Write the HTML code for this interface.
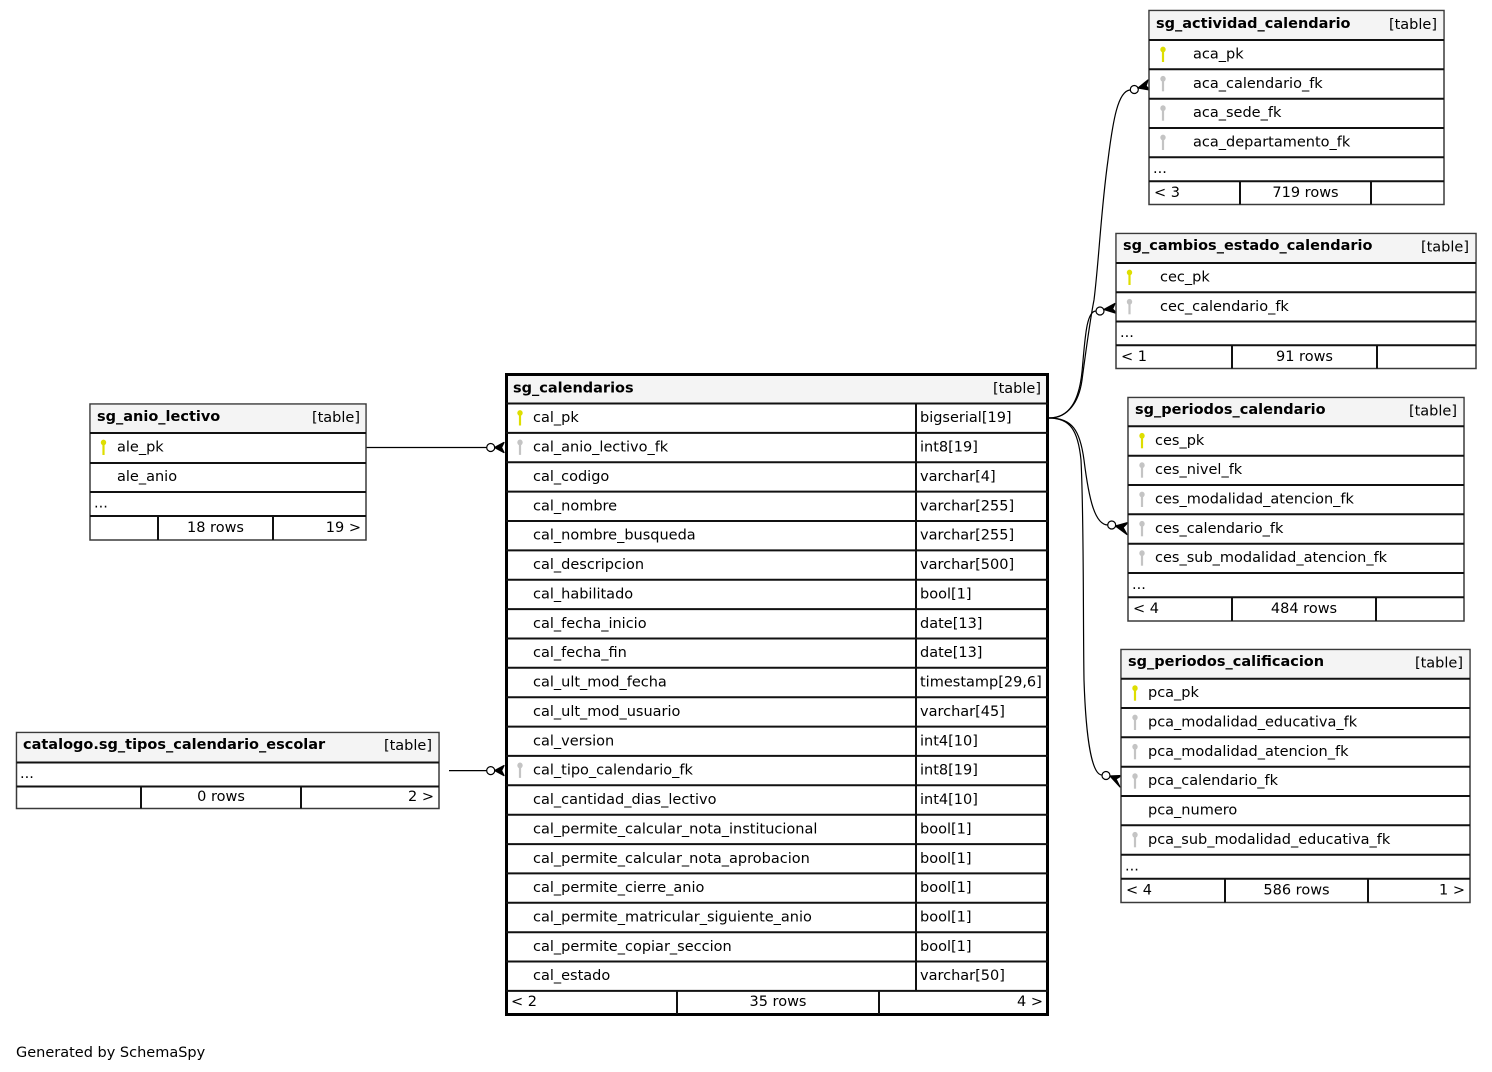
<!DOCTYPE html>
<html><head><meta charset="utf-8"><style>
html,body{margin:0;padding:0;background:#fff;}
svg{display:block;}
text{font-family:"DejaVu Sans","Liberation Sans",sans-serif;font-size:14.5px;fill:#000;}
.b{font-weight:bold;}
.e{text-anchor:end;}
.m{text-anchor:middle;}
.r{transform:translateY(-0.8px);}
.sep{stroke:#111;stroke-width:2;}
.ob{fill:#fff;stroke:#3a3a3a;stroke-width:1.5;}
.hd{fill:#f4f4f4;}
.cn{fill:none;stroke:#000;stroke-width:1.2;}
.cf{fill:#000;stroke:#000;stroke-width:1.3;stroke-linejoin:round;}
.ci{fill:#fff;stroke:#000;stroke-width:1.2;}
</style></head><body>
<svg width="1492" height="1072" viewBox="0 0 1492 1072" xmlns="http://www.w3.org/2000/svg">
<defs>
<g id="ky"><ellipse cx="0" cy="0" rx="2.7" ry="2.9"/><rect x="-1.1" y="1.5" width="2.2" height="11"/></g>
</defs>

<!-- ================= connectors ================= -->
<path class="cn" d="M366,447.5 L486.5,447.5"/>
<circle class="ci" cx="490.7" cy="447.5" r="4"/>
<path class="cf" d="M494.7,447.5 L504,442.5 L501.5,447.5 L504,452.5 Z"/>

<path class="cn" d="M449,770.6 L486.5,770.6"/>
<circle class="ci" cx="490.7" cy="770.6" r="4"/>
<path class="cf" d="M494.7,770.6 L504,765.6 L501.5,770.6 L504,775.6 Z"/>

<!-- to actividad -->
<path class="cn" d="M1049,418 C1068,418 1079,402 1082,380 C1086,350 1090,320 1094,300 C1099,260 1101,210 1108,160 C1113,120 1118,91 1130,90"/>
<circle class="ci" cx="1134.3" cy="89.5" r="4"/>
<path class="cf" d="M1138,88 L1148,80 L1146,86 L1150,90 Z"/>

<!-- to cambios -->
<path class="cn" d="M1049,418 C1070,418 1079,400 1082,372 C1085,340 1086,311 1096,311"/>
<circle class="ci" cx="1100" cy="311" r="4"/>
<path class="cf" d="M1104,309.5 L1115,303.5 L1112.5,309 L1117,313.5 Z"/>

<!-- to periodos_calendario -->
<path class="cn" d="M1049,418 C1072,418 1080,430 1084,460 C1089,500 1095,525 1108,525"/>
<circle class="ci" cx="1111.7" cy="525" r="4"/>
<path class="cf" d="M1115.5,526 L1128,522.5 L1123,527.5 L1127,534.5 Z"/>

<!-- to periodos_calificacion -->
<path class="cn" d="M1049,418 C1070,418 1078,430 1081,460 C1084,520 1083,620 1084,680 C1086,740 1092,775 1102,775"/>
<circle class="ci" cx="1106" cy="775.5" r="4"/>
<path class="cf" d="M1110,776 L1122,775.5 L1116,779 L1120,787 Z"/>

<!-- ================= sg_anio_lectivo ================= -->
<rect class="ob" x="90" y="404" width="276" height="136"/>
<rect class="hd" x="90.8" y="404.8" width="274.4" height="28.2"/>
<line class="sep" x1="90" y1="433" x2="366" y2="433"/>
<line class="sep" x1="90" y1="463" x2="366" y2="463"/>
<line class="sep" x1="90" y1="492" x2="366" y2="492"/>
<line class="sep" x1="90" y1="516" x2="366" y2="516"/>
<line class="sep" x1="158" y1="516" x2="158" y2="540"/>
<line class="sep" x1="273" y1="516" x2="273" y2="540"/>
<text class="b" x="97" y="421">sg_anio_lectivo</text>
<text class="e" x="360" y="422">[table]</text>
<use href="#ky" x="103.5" y="442.5" fill="#dede00"/>
<text class="r" x="117" y="452.5">ale_pk</text>
<text class="r" x="117" y="482">ale_anio</text>
<text x="94" y="507.5">...</text>
<text class="m" x="215.5" y="532">18 rows</text>
<text class="e" x="361" y="532">19 &gt;</text>

<!-- ================= catalogo.sg_tipos_calendario_escolar ================= -->
<rect class="ob" x="16.5" y="732.5" width="422.5" height="76"/>
<rect class="hd" x="17.3" y="733.3" width="420.9" height="28.9"/>
<line class="sep" x1="16.5" y1="762.5" x2="439" y2="762.5"/>
<line class="sep" x1="16.5" y1="786.5" x2="439" y2="786.5"/>
<line class="sep" x1="141" y1="786.5" x2="141" y2="808.5"/>
<line class="sep" x1="301" y1="786.5" x2="301" y2="808.5"/>
<text class="b" x="23" y="749">catalogo.sg_tipos_calendario_escolar</text>
<text class="e" x="432" y="750">[table]</text>
<text x="20" y="778">...</text>
<text class="m" x="221" y="801">0 rows</text>
<text class="e" x="434" y="801">2 &gt;</text>

<!-- ================= sg_calendarios (main) ================= -->
<rect x="506.5" y="374.5" width="541" height="640" fill="#fff" stroke="#000" stroke-width="3"/>
<rect class="hd" x="508" y="376" width="538" height="27.5"/>
<g class="sep">
<line x1="506" y1="403.5" x2="1048" y2="403.5"/>
<line x1="506" y1="432.9" x2="1048" y2="432.9"/>
<line x1="506" y1="462.2" x2="1048" y2="462.2"/>
<line x1="506" y1="491.6" x2="1048" y2="491.6"/>
<line x1="506" y1="521.0" x2="1048" y2="521.0"/>
<line x1="506" y1="550.4" x2="1048" y2="550.4"/>
<line x1="506" y1="579.7" x2="1048" y2="579.7"/>
<line x1="506" y1="609.1" x2="1048" y2="609.1"/>
<line x1="506" y1="638.5" x2="1048" y2="638.5"/>
<line x1="506" y1="667.8" x2="1048" y2="667.8"/>
<line x1="506" y1="697.2" x2="1048" y2="697.2"/>
<line x1="506" y1="726.6" x2="1048" y2="726.6"/>
<line x1="506" y1="755.9" x2="1048" y2="755.9"/>
<line x1="506" y1="785.3" x2="1048" y2="785.3"/>
<line x1="506" y1="814.7" x2="1048" y2="814.7"/>
<line x1="506" y1="844.1" x2="1048" y2="844.1"/>
<line x1="506" y1="873.4" x2="1048" y2="873.4"/>
<line x1="506" y1="902.8" x2="1048" y2="902.8"/>
<line x1="506" y1="932.2" x2="1048" y2="932.2"/>
<line x1="506" y1="961.5" x2="1048" y2="961.5"/>
<line x1="506" y1="990.9" x2="1048" y2="990.9"/>
<line x1="916" y1="403.5" x2="916" y2="990.9"/>
<line x1="677" y1="990.9" x2="677" y2="1014"/>
<line x1="879" y1="990.9" x2="879" y2="1014"/>
</g>
<text class="b" x="513" y="392.5">sg_calendarios</text>
<text class="e" x="1041" y="393">[table]</text>
<use href="#ky" x="520" y="413" fill="#dede00"/>
<use href="#ky" x="520" y="442.4" fill="#c4c4c4"/>
<use href="#ky" x="520" y="765.4" fill="#c4c4c4"/>
<g class="r">
<text x="533" y="423">cal_pk</text><text x="920" y="423">bigserial[19]</text>
<text x="533" y="452.4">cal_anio_lectivo_fk</text><text x="920" y="452.4">int8[19]</text>
<text x="533" y="481.7">cal_codigo</text><text x="920" y="481.7">varchar[4]</text>
<text x="533" y="511.1">cal_nombre</text><text x="920" y="511.1">varchar[255]</text>
<text x="533" y="540.5">cal_nombre_busqueda</text><text x="920" y="540.5">varchar[255]</text>
<text x="533" y="569.9">cal_descripcion</text><text x="920" y="569.9">varchar[500]</text>
<text x="533" y="599.2">cal_habilitado</text><text x="920" y="599.2">bool[1]</text>
<text x="533" y="628.6">cal_fecha_inicio</text><text x="920" y="628.6">date[13]</text>
<text x="533" y="658">cal_fecha_fin</text><text x="920" y="658">date[13]</text>
<text x="533" y="687.3">cal_ult_mod_fecha</text><text x="920" y="687.3">timestamp[29,6]</text>
<text x="533" y="716.7">cal_ult_mod_usuario</text><text x="920" y="716.7">varchar[45]</text>
<text x="533" y="746.1">cal_version</text><text x="920" y="746.1">int4[10]</text>
<text x="533" y="775.4">cal_tipo_calendario_fk</text><text x="920" y="775.4">int8[19]</text>
<text x="533" y="804.8">cal_cantidad_dias_lectivo</text><text x="920" y="804.8">int4[10]</text>
<text x="533" y="834.2">cal_permite_calcular_nota_institucional</text><text x="920" y="834.2">bool[1]</text>
<text x="533" y="863.6">cal_permite_calcular_nota_aprobacion</text><text x="920" y="863.6">bool[1]</text>
<text x="533" y="892.9">cal_permite_cierre_anio</text><text x="920" y="892.9">bool[1]</text>
<text x="533" y="922.3">cal_permite_matricular_siguiente_anio</text><text x="920" y="922.3">bool[1]</text>
<text x="533" y="951.7">cal_permite_copiar_seccion</text><text x="920" y="951.7">bool[1]</text>
<text x="533" y="981">cal_estado</text><text x="920" y="981">varchar[50]</text>
</g>
<text x="511" y="1006">&lt; 2</text>
<text class="m" x="778" y="1006">35 rows</text>
<text class="e" x="1043" y="1006">4 &gt;</text>

<!-- ================= sg_actividad_calendario ================= -->
<rect class="ob" x="1149" y="10.5" width="295" height="194"/>
<rect class="hd" x="1149.8" y="11.3" width="293.4" height="28.7"/>
<g class="sep">
<line x1="1149" y1="40" x2="1444" y2="40"/>
<line x1="1149" y1="69.3" x2="1444" y2="69.3"/>
<line x1="1149" y1="98.7" x2="1444" y2="98.7"/>
<line x1="1149" y1="128" x2="1444" y2="128"/>
<line x1="1149" y1="157.3" x2="1444" y2="157.3"/>
<line x1="1149" y1="181.3" x2="1444" y2="181.3"/>
<line x1="1240" y1="181.3" x2="1240" y2="204.5"/>
<line x1="1371" y1="181.3" x2="1371" y2="204.5"/>
</g>
<text class="b" x="1156" y="28">sg_actividad_calendario</text>
<text class="e" x="1437" y="29">[table]</text>
<use href="#ky" x="1163" y="49.5" fill="#dede00"/>
<use href="#ky" x="1163" y="78.8" fill="#c4c4c4"/>
<use href="#ky" x="1163" y="108.2" fill="#c4c4c4"/>
<use href="#ky" x="1163" y="137.5" fill="#c4c4c4"/>
<g class="r">
<text x="1193" y="59.3">aca_pk</text>
<text x="1193" y="88.6">aca_calendario_fk</text>
<text x="1193" y="118">aca_sede_fk</text>
<text x="1193" y="147.3">aca_departamento_fk</text>
</g>
<text x="1153" y="173">...</text>
<text x="1154" y="197">&lt; 3</text>
<text class="m" x="1305.5" y="197">719 rows</text>

<!-- ================= sg_cambios_estado_calendario ================= -->
<rect class="ob" x="1116" y="233.5" width="360" height="135"/>
<rect class="hd" x="1116.8" y="234.3" width="358.4" height="28.7"/>
<g class="sep">
<line x1="1116" y1="263" x2="1476" y2="263"/>
<line x1="1116" y1="292.3" x2="1476" y2="292.3"/>
<line x1="1116" y1="321.5" x2="1476" y2="321.5"/>
<line x1="1116" y1="345.3" x2="1476" y2="345.3"/>
<line x1="1232" y1="345.3" x2="1232" y2="368.5"/>
<line x1="1377" y1="345.3" x2="1377" y2="368.5"/>
</g>
<text class="b" x="1123" y="250">sg_cambios_estado_calendario</text>
<text class="e" x="1469" y="251.5">[table]</text>
<use href="#ky" x="1129.5" y="272.5" fill="#dede00"/>
<use href="#ky" x="1129.5" y="301.8" fill="#c4c4c4"/>
<g class="r">
<text x="1160" y="282.3">cec_pk</text>
<text x="1160" y="311.6">cec_calendario_fk</text>
</g>
<text x="1120" y="337">...</text>
<text x="1121" y="361">&lt; 1</text>
<text class="m" x="1304.5" y="361">91 rows</text>

<!-- ================= sg_periodos_calendario ================= -->
<rect class="ob" x="1128" y="397.5" width="336" height="223.5"/>
<rect class="hd" x="1128.8" y="398.3" width="334.4" height="27.9"/>
<g class="sep">
<line x1="1128" y1="426.3" x2="1464" y2="426.3"/>
<line x1="1128" y1="455.7" x2="1464" y2="455.7"/>
<line x1="1128" y1="485" x2="1464" y2="485"/>
<line x1="1128" y1="514.3" x2="1464" y2="514.3"/>
<line x1="1128" y1="543.7" x2="1464" y2="543.7"/>
<line x1="1128" y1="573" x2="1464" y2="573"/>
<line x1="1128" y1="597.3" x2="1464" y2="597.3"/>
<line x1="1232" y1="597.3" x2="1232" y2="621"/>
<line x1="1376" y1="597.3" x2="1376" y2="621"/>
</g>
<text class="b" x="1135" y="414">sg_periodos_calendario</text>
<text class="e" x="1457" y="415.5">[table]</text>
<use href="#ky" x="1142" y="435.8" fill="#dede00"/>
<use href="#ky" x="1142" y="465.2" fill="#c4c4c4"/>
<use href="#ky" x="1142" y="494.5" fill="#c4c4c4"/>
<use href="#ky" x="1142" y="523.8" fill="#c4c4c4"/>
<use href="#ky" x="1142" y="553.2" fill="#c4c4c4"/>
<g class="r">
<text x="1155" y="445.6">ces_pk</text>
<text x="1155" y="475">ces_nivel_fk</text>
<text x="1155" y="504.3">ces_modalidad_atencion_fk</text>
<text x="1155" y="533.6">ces_calendario_fk</text>
<text x="1155" y="563">ces_sub_modalidad_atencion_fk</text>
</g>
<text x="1132" y="589">...</text>
<text x="1133" y="613">&lt; 4</text>
<text class="m" x="1304" y="613">484 rows</text>

<!-- ================= sg_periodos_calificacion ================= -->
<rect class="ob" x="1121" y="649.5" width="349" height="253"/>
<rect class="hd" x="1121.8" y="650.3" width="347.4" height="28.4"/>
<g class="sep">
<line x1="1121" y1="678.7" x2="1470" y2="678.7"/>
<line x1="1121" y1="708" x2="1470" y2="708"/>
<line x1="1121" y1="737.3" x2="1470" y2="737.3"/>
<line x1="1121" y1="766.7" x2="1470" y2="766.7"/>
<line x1="1121" y1="796" x2="1470" y2="796"/>
<line x1="1121" y1="825.3" x2="1470" y2="825.3"/>
<line x1="1121" y1="854.7" x2="1470" y2="854.7"/>
<line x1="1121" y1="878.7" x2="1470" y2="878.7"/>
<line x1="1225" y1="878.7" x2="1225" y2="902.5"/>
<line x1="1368" y1="878.7" x2="1368" y2="902.5"/>
</g>
<text class="b" x="1128" y="666">sg_periodos_calificacion</text>
<text class="e" x="1463" y="667.5">[table]</text>
<use href="#ky" x="1135" y="688.2" fill="#dede00"/>
<use href="#ky" x="1135" y="717.5" fill="#c4c4c4"/>
<use href="#ky" x="1135" y="746.8" fill="#c4c4c4"/>
<use href="#ky" x="1135" y="776.2" fill="#c4c4c4"/>
<use href="#ky" x="1135" y="834.8" fill="#c4c4c4"/>
<g class="r">
<text x="1148" y="698">pca_pk</text>
<text x="1148" y="727.3">pca_modalidad_educativa_fk</text>
<text x="1148" y="756.6">pca_modalidad_atencion_fk</text>
<text x="1148" y="786">pca_calendario_fk</text>
<text x="1148" y="815.3">pca_numero</text>
<text x="1148" y="844.6">pca_sub_modalidad_educativa_fk</text>
</g>
<text x="1125" y="870.5">...</text>
<text x="1126" y="894.5">&lt; 4</text>
<text class="m" x="1296.5" y="894.5">586 rows</text>
<text class="e" x="1465" y="894.5">1 &gt;</text>

<text x="16" y="1057">Generated by SchemaSpy</text>
</svg>
</body></html>
